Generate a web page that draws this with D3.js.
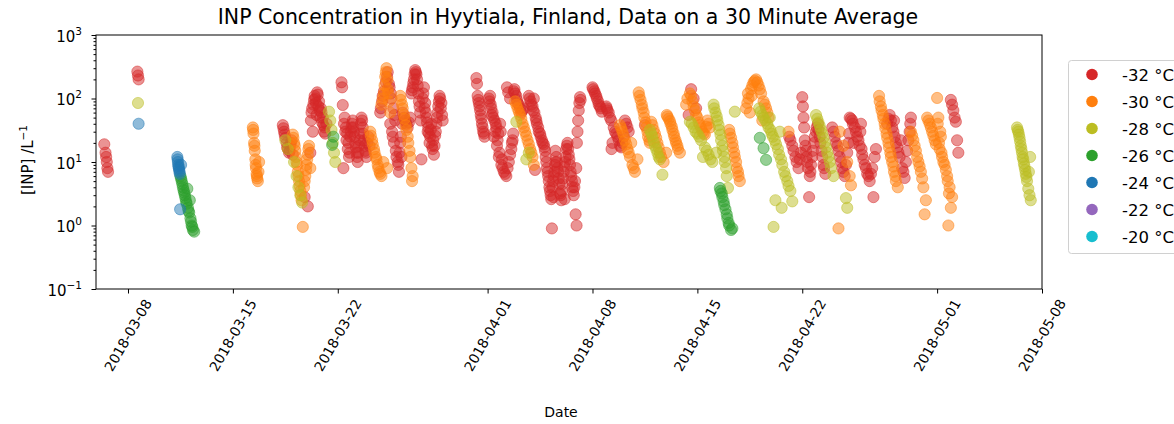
<!DOCTYPE html>
<html><head><meta charset="utf-8">
<script src="https://cdn.jsdelivr.net/npm/d3@7"></script>
<style>
body{margin:0;background:#fff;}
text{font-family:"DejaVu Sans",sans-serif;fill:#000;}
</style></head>
<body><svg id="chart" width="1174" height="424"></svg>
<script>
const temperatures = ["-32 °C","-30 °C","-28 °C","-26 °C","-24 °C","-22 °C","-20 °C"];
const colors = ["#d62728","#ff7f0e","#bcbd22","#2ca02c","#1f77b4","#9467bd","#17becf"];
const xTickLabels = ["2018-03-08","2018-03-15","2018-03-22","2018-04-01","2018-04-08","2018-04-15","2018-04-22","2018-05-01","2018-05-08"];
const yTickValues = [0.1,1,10,100,1000];

const seriesM32 = [
["03-06 10:00",19],["03-06 12:00",14],["03-06 13:00",12],["03-06 14:00",10],["03-06 15:00",8],["03-06 16:00",7],
["03-08 15:00",265],["03-08 16:00",230],["03-08 17:00",200],
["03-18 08:00",38],["03-18 10:00",30],["03-18 12:00",24],["03-18 14:00",20],["03-18 16:00",16],["03-18 18:00",14],["03-18 20:00",18],["03-18 22:00",22],["03-19 00:00",13],
["03-18 09:00",34],["03-18 11:00",27],["03-18 15:00",17],["03-18 19:00",15],["03-18 21:00",20],
["03-19 19:00",2.8],["03-20 00:00",2.0],["03-20 04:00",14],
["03-20 06:00",60],["03-20 09:00",80],["03-20 12:00",100],["03-20 15:00",125],["03-20 18:00",90],["03-20 21:00",70],["03-21 00:00",50],["03-21 03:00",35],["03-21 06:00",40],["03-20 08:00",30],["03-20 05:00",45],["03-20 14:00",55],
["03-20 07:00",70],["03-20 10:00",95],["03-20 11:00",110],["03-20 13:00",85],["03-20 16:00",115],["03-20 17:00",75],["03-20 19:00",65],["03-20 20:00",50],["03-20 22:00",60],["03-20 23:00",42],["03-21 01:00",38],["03-21 02:00",30],["03-21 04:00",28],
["03-22 06:00",180],["03-22 07:00",150],["03-22 08:00",79],["03-22 09:00",8],
["03-22 10:00",40],["03-22 12:00",30],["03-22 14:00",22],["03-22 16:00",16],["03-22 18:00",12],["03-22 20:00",25],["03-22 22:00",35],["03-23 00:00",45],["03-23 02:00",30],["03-23 04:00",20],["03-23 06:00",14],["03-23 08:00",10],["03-23 10:00",18],["03-23 12:00",28],["03-23 14:00",50],["03-23 16:00",35],["03-23 18:00",22],["03-23 20:00",15],["03-23 22:00",12],
["03-22 11:00",50],["03-22 13:00",35],["03-22 15:00",28],["03-22 17:00",20],["03-22 19:00",14],["03-22 21:00",30],["03-22 23:00",40],["03-23 01:00",35],["03-23 03:00",25],["03-23 05:00",17],["03-23 07:00",12],["03-23 09:00",14],["03-23 11:00",22],["03-23 13:00",40],["03-23 15:00",45],["03-23 17:00",28],["03-23 19:00",18],["03-23 21:00",14],["03-23 23:00",20],["03-24 01:00",25],["03-24 03:00",18],
["03-24 20:00",60],["03-24 23:00",90],["03-25 02:00",130],["03-25 05:00",180],["03-25 08:00",260],["03-25 11:00",150],["03-25 14:00",100],["03-25 17:00",70],["03-25 20:00",45],
["03-24 21:00",70],["03-25 00:00",110],["03-25 07:00",220],["03-25 10:00",170],["03-25 13:00",120],["03-25 15:00",30],["03-25 18:00",20],["03-25 19:00",55],["03-25 22:00",12],["03-26 01:00",9],["03-26 03:00",14],["03-26 05:00",25],["03-26 07:00",40],["03-26 10:00",50],["03-26 14:00",40],["03-26 18:00",42],
["03-25 12:00",40],["03-25 16:00",25],["03-25 21:00",15],["03-26 00:00",10],["03-26 02:00",7],["03-26 04:00",20],["03-26 06:00",12],
["03-26 08:00",60],["03-26 12:00",45],["03-26 16:00",35],["03-26 20:00",50],
["03-26 22:00",120],["03-27 00:00",150],["03-27 02:00",200],["03-27 04:00",280],["03-27 06:00",240],["03-27 08:00",160],["03-27 10:00",90],["03-27 12:00",60],
["03-26 23:00",135],["03-27 01:00",175],["03-27 03:00",240],["03-27 05:00",260],["03-27 07:00",200],["03-27 09:00",120],["03-27 11:00",75],["03-27 13:00",45],
["03-27 14:00",11],
["03-27 16:00",100],["03-27 18:00",150],["03-27 19:00",70],["03-27 22:00",50],["03-28 01:00",35],["03-28 04:00",25],["03-28 06:00",40],["03-28 07:00",18],["03-28 10:00",13],["03-28 13:00",30],["03-28 16:00",60],["03-28 19:00",110],["03-28 22:00",85],["03-29 00:00",45],
["03-27 17:00",120],["03-27 20:00",85],["03-27 21:00",60],["03-27 23:00",42],["03-28 00:00",30],["03-28 02:00",28],["03-28 03:00",20],["03-28 05:00",32],["03-28 08:00",16],["03-28 09:00",22],["03-28 11:00",18],["03-28 12:00",26],["03-28 14:00",40],["03-28 15:00",50],["03-28 17:00",75],["03-28 18:00",90],["03-28 20:00",100],["03-28 21:00",70],["03-28 23:00",55],
["03-31 06:00",210],["03-31 07:00",170],["03-31 08:00",110],["03-31 09:00",95],["03-31 10:00",85],["03-31 12:00",65],["03-31 13:00",55],["03-31 14:00",48],["03-31 16:00",35],["03-31 18:00",28],
["03-31 11:00",75],["03-31 15:00",40],["03-31 17:00",30],["03-31 19:00",25],
["04-01 02:00",100],["04-01 04:00",110],["04-01 05:00",80],["04-01 08:00",60],["04-01 11:00",45],["04-01 14:00",35],["04-01 17:00",28],["04-01 20:00",40],
["04-01 10:00",25],["04-01 15:00",18],["04-01 18:00",12],["04-01 22:00",9],["04-02 02:00",7],["04-02 06:00",6],["04-02 10:00",10],["04-02 14:00",16],["04-02 16:00",22],
["04-01 03:00",90],["04-01 06:00",70],["04-01 07:00",55],["04-01 09:00",50],["04-01 12:00",30],["04-01 13:00",40],["04-01 16:00",22],["04-01 19:00",14],["04-01 21:00",30],["04-01 23:00",11],["04-02 00:00",8],["04-02 04:00",6.5],["04-02 08:00",8],["04-02 12:00",13],["04-02 15:00",20],["04-02 17:00",28],
["04-02 07:00",150],["04-02 09:00",125],["04-02 12:00",100],["04-02 18:00",130],["04-02 22:00",110],["04-03 02:00",80],["04-03 06:00",60],["04-03 10:00",70],
["04-02 19:00",140],["04-02 20:00",120],["04-02 23:00",95],["04-03 00:00",85],["04-03 04:00",70],["04-03 08:00",65],
["04-03 18:00",110],["04-03 21:00",90],["04-04 00:00",75],["04-04 02:00",100],["04-04 03:00",60],["04-04 06:00",45],["04-04 09:00",35],["04-04 12:00",28],["04-04 15:00",22],["04-04 18:00",19],["04-04 04:00",7.5],
["04-03 19:00",100],["04-03 22:00",80],["04-04 01:00",65],["04-04 05:00",50],["04-04 07:00",40],["04-04 10:00",30],["04-04 13:00",25],["04-04 16:00",20],["04-04 19:00",17],["04-04 21:00",12],["04-04 23:00",8],
["04-04 20:00",15],["04-04 22:00",10],["04-05 00:00",7],["04-05 02:00",5],["04-05 04:00",3.5],["04-05 06:00",2.6],["04-05 08:00",4],["04-05 10:00",6],["04-05 12:00",9],["04-05 14:00",12],["04-05 16:00",8],["04-05 18:00",5.5],["04-05 20:00",3.2],["04-05 22:00",2.5],["04-06 00:00",4.5],["04-06 02:00",7],["04-06 04:00",10],["04-06 06:00",16],["04-06 08:00",20],["04-06 10:00",13],["04-06 12:00",9],["04-06 14:00",6],["04-06 16:00",4],["04-06 18:00",3],["04-06 20:00",5],["04-06 22:00",8],
["04-05 01:00",6],["04-05 03:00",4],["04-05 05:00",3],["04-05 09:00",5],["04-05 11:00",7],["04-05 13:00",10],["04-05 15:00",10],["04-05 17:00",7],["04-05 19:00",4.5],["04-05 21:00",3],["04-05 23:00",3.5],["04-06 01:00",5.5],["04-06 03:00",8.5],["04-06 05:00",12],["04-06 07:00",18],["04-06 09:00",16],["04-06 11:00",11],["04-06 13:00",7],["04-06 15:00",5],["04-06 17:00",3.5],["04-06 19:00",4],["04-05 12:30",15],["04-05 09:30",2.8],["04-06 03:30",2.6],
["04-05 07:00",0.9],["04-06 21:00",1.5],["04-06 22:30",1.0],
["04-06 23:00",20],["04-07 00:00",30],["04-07 01:00",45],["04-07 02:00",65],["04-07 03:00",85],["04-07 04:00",105],["04-07 05:00",95],
["04-08 00:00",150],["04-08 03:00",130],["04-08 06:00",110],["04-08 09:00",90],["04-08 12:00",75],["04-08 15:00",62],
["04-08 01:00",140],["04-08 04:00",120],["04-08 07:00",100],["04-08 10:00",80],["04-08 13:00",70],
["04-08 22:00",75],["04-09 02:00",60],["04-09 06:00",45],["04-09 08:00",20],["04-09 10:00",35],["04-09 14:00",28],["04-09 18:00",22],["04-09 22:00",17],["04-10 02:00",25],["04-10 04:00",45],["04-10 06:00",40],["04-10 10:00",30],
["04-08 23:00",70],["04-09 00:00",65],["04-09 04:00",50],["04-09 12:00",30],["04-09 16:00",25],["04-09 20:00",18],["04-10 00:00",20],["04-10 08:00",35],["04-09 06:30",16],
["04-11 12:00",38],
["04-14 10:00",55],["04-14 14:00",140],["04-14 18:00",100],["04-14 22:00",70],
["04-21 03:00",25],["04-21 08:00",18],["04-21 13:00",12],["04-21 18:00",8],["04-21 22:00",14],["04-22 00:00",105],["04-22 01:00",75],["04-22 02:00",50],["04-22 03:00",35],["04-22 04:00",22],["04-22 06:00",15],["04-22 08:00",10],["04-22 11:00",2.8],["04-22 13:00",7],["04-22 16:00",12],["04-22 19:00",20],["04-22 22:00",30],["04-23 01:00",40],["04-23 04:00",25],["04-23 07:00",15],["04-23 10:00",9],["04-23 13:00",6.5],
["04-21 05:00",22],["04-21 10:00",15],["04-21 15:00",10],["04-21 20:00",11],["04-22 05:00",18],["04-22 07:00",12],["04-22 09:00",8],["04-22 12:00",6],["04-22 14:00",9],["04-22 17:00",15],["04-22 20:00",25],["04-22 23:00",35],["04-23 02:00",32],["04-23 05:00",20],["04-23 08:00",12],["04-23 11:00",8],
["04-24 00:00",35],["04-24 04:00",25],["04-24 08:00",18],["04-24 12:00",12],["04-24 16:00",8],["04-24 20:00",6],["04-25 00:00",14],["04-25 03:00",28],
["04-24 02:00",30],["04-24 06:00",20],["04-24 10:00",15],["04-24 14:00",10],["04-24 18:00",7],["04-24 22:00",9],["04-25 02:00",20],
["04-25 04:00",50],["04-25 08:00",45],["04-25 10:00",20],["04-25 12:00",35],["04-25 16:00",25],["04-25 20:00",18],["04-25 22:00",40],["04-26 00:00",13],["04-26 04:00",9],["04-26 08:00",6.5],["04-26 12:00",5],["04-26 16:00",8],["04-26 18:00",2.8],["04-26 20:00",12],
["04-25 06:00",48],["04-25 14:00",30],["04-25 18:00",22],["04-25 21:00",30],["04-25 23:00",16],["04-26 02:00",11],["04-26 06:00",8],["04-26 10:00",6],["04-26 14:00",6.5],["04-26 22:00",16],["04-25 09:00",40],
["04-27 16:00",40],["04-27 20:00",55],["04-28 00:00",35],["04-28 04:00",25],["04-28 08:00",17],["04-28 12:00",12],["04-28 14:00",22],["04-28 16:00",8],["04-28 20:00",5.6],["04-29 00:00",15],["04-29 04:00",30],["04-29 06:00",50],
["04-27 18:00",48],["04-27 22:00",45],["04-28 02:00",30],["04-28 06:00",20],["04-28 10:00",14],["04-28 18:00",7],["04-28 22:00",10],["04-29 02:00",22],["04-29 05:00",40],["04-28 03:00",45],
["05-01 22:00",95],["05-02 00:00",80],["05-02 02:00",65],["05-02 04:00",50],["05-02 06:00",43],["05-02 08:00",22],["05-02 10:00",14]
];

const seriesM30 = [
["03-16 08:00",35],["03-16 09:00",28],["03-16 10:00",20],["03-16 11:00",15],["03-16 12:00",11],["03-16 13:00",8],["03-16 14:00",6.5],["03-16 15:00",5.5],["03-16 16:00",5],["03-16 17:00",7],["03-16 18:00",10],
["03-16 08:30",32],["03-16 10:30",18],["03-16 12:30",9],["03-16 14:30",6],
["03-19 00:00",27],["03-19 02:00",20],["03-19 04:00",15],["03-19 06:00",10],["03-19 08:00",7],["03-19 10:00",5],["03-19 12:00",3.5],["03-19 14:00",2.5],["03-19 16:00",0.95],["03-19 18:00",4],["03-19 20:00",6],["03-19 22:00",9],["03-20 00:00",13],["03-20 02:00",18],["03-20 04:00",8],
["03-19 01:00",24],["03-19 03:00",18],["03-19 05:00",12],["03-19 07:00",9],["03-19 09:00",6],["03-19 11:00",4.2],["03-19 13:00",3],["03-19 19:00",5],["03-19 21:00",7.5],["03-19 23:00",11],["03-20 01:00",16],
["03-24 04:00",30],["03-24 07:00",22],["03-24 10:00",16],["03-24 13:00",12],["03-24 16:00",9],["03-24 19:00",7],["03-24 22:00",6],["03-25 01:00",10],
["03-24 05:00",26],["03-24 08:00",19],["03-24 11:00",14],["03-24 14:00",11],["03-24 17:00",8],["03-24 20:00",6.5],
["03-25 06:00",300],["03-25 04:00",220],["03-25 03:00",160],["03-25 09:00",120],["03-24 22:00",80],["03-25 12:00",60],["03-25 07:00",8],
["03-25 05:00",260],["03-25 07:30",200],["03-25 08:00",140],["03-25 10:00",90],["03-25 02:00",120],["03-25 00:00",100],
["03-26 04:00",110],["03-26 07:00",80],["03-26 10:00",55],["03-26 13:00",38],["03-26 16:00",25],["03-26 19:00",15],["03-26 22:00",8],["03-27 00:00",6],["03-26 23:00",5],
["03-26 05:00",95],["03-26 08:00",70],["03-26 11:00",48],["03-26 14:00",32],["03-26 17:00",20],["03-26 20:00",12],
["04-02 20:00",90],["04-03 00:00",70],["04-03 04:00",55],["04-03 08:00",40],["04-03 12:00",30],["04-03 16:00",22],["04-03 20:00",16],["04-04 00:00",12],["04-04 02:00",9],
["04-02 22:00",80],["04-03 02:00",62],["04-03 06:00",48],["04-03 10:00",35],["04-03 14:00",26],["04-03 18:00",19],["04-03 22:00",14],
["04-09 20:00",38],["04-10 00:00",30],["04-10 04:00",22],["04-10 08:00",16],["04-10 12:00",12],["04-10 14:00",20],["04-10 16:00",9],["04-10 20:00",7],["04-11 00:00",11],
["04-09 22:00",34],["04-10 02:00",26],["04-10 06:00",19],["04-10 10:00",14],["04-10 18:00",8],
["04-11 02:00",125],["04-11 05:00",95],["04-11 08:00",70],["04-11 11:00",50],["04-11 14:00",35],["04-11 17:00",25],["04-11 20:00",20],
["04-11 03:00",110],["04-11 07:00",80],["04-11 10:00",60],["04-11 13:00",42],["04-11 16:00",30],["04-11 19:00",22],
["04-11 22:00",43],["04-12 02:00",32],["04-12 06:00",24],["04-12 10:00",17],["04-12 14:00",12],["04-12 18:00",10],["04-12 22:00",14],
["04-12 00:00",38],["04-12 04:00",28],["04-12 08:00",20],["04-12 12:00",14],
["04-12 23:00",55],["04-13 02:00",48],["04-13 05:00",40],["04-13 08:00",32],["04-13 11:00",25],["04-13 14:00",20],["04-13 17:00",16],["04-13 20:00",14],
["04-13 00:00",52],["04-13 04:00",44],["04-13 07:00",36],["04-13 10:00",28],["04-13 13:00",22],["04-13 16:00",18],
["04-14 06:00",80],["04-14 12:00",120],["04-14 16:00",90],["04-14 20:00",65],["04-15 00:00",50],["04-15 04:00",38],["04-15 08:00",30],["04-15 12:00",27],["04-15 16:00",45],["04-15 20:00",35],
["04-14 08:00",100],["04-14 14:00",110],["04-14 18:00",75],["04-14 22:00",55],["04-15 02:00",42],["04-15 06:00",34],["04-15 10:00",28],["04-15 14:00",36],["04-15 18:00",40],
["04-17 03:00",32],["04-17 06:00",24],["04-17 09:00",17],["04-17 12:00",12],["04-17 15:00",8],["04-17 18:00",6],["04-17 20:00",5],
["04-17 04:00",28],["04-17 08:00",20],["04-17 11:00",14],["04-17 14:00",10],["04-17 17:00",7],
["04-18 06:00",70],["04-18 10:00",100],["04-18 12:00",60],["04-18 14:00",140],["04-18 18:00",180],["04-18 22:00",200],["04-19 02:00",160],["04-19 06:00",120],["04-19 08:00",45],["04-19 10:00",90],["04-19 14:00",70],["04-19 18:00",50],
["04-18 08:00",85],["04-18 16:00",160],["04-18 20:00",190],["04-19 00:00",180],["04-19 04:00",140],["04-19 12:00",80],["04-19 16:00",60],["04-18 09:00",120],["04-18 15:00",110],
["04-21 02:00",30],
["04-24 10:00",0.9],["04-24 12:00",30],["04-24 18:00",18],["04-25 00:00",10],["04-25 04:00",6],["04-25 06:00",4.3],
["04-27 03:00",110],["04-27 06:00",75],["04-27 09:00",55],["04-27 12:00",40],["04-27 15:00",28],["04-27 18:00",20],["04-27 21:00",14],["04-28 00:00",10],["04-28 03:00",7],["04-28 06:00",5],["04-28 09:00",4],
["04-27 04:00",90],["04-27 07:00",65],["04-27 10:00",48],["04-27 13:00",34],["04-27 16:00",24],["04-27 19:00",17],["04-27 22:00",12],["04-28 02:00",8.5],["04-28 05:00",6],
["04-29 06:00",30],["04-29 10:00",22],["04-29 14:00",15],["04-29 18:00",10],["04-29 22:00",7],["04-30 02:00",4],["04-30 04:00",1.5],["04-30 06:00",2.5],
["04-29 08:00",26],["04-29 12:00",18],["04-29 16:00",12],["04-29 20:00",8.5],["04-30 00:00",5.5],
["04-30 08:00",50],["04-30 12:00",40],["04-30 14:00",35],["04-30 16:00",30],["04-30 20:00",22],["05-01 00:00",102],["05-01 02:00",50],["05-01 04:00",16],["05-01 06:00",25],["05-01 08:00",12],["05-01 12:00",9],["05-01 16:00",6],["05-01 18:00",1.0],["05-01 20:00",4],["05-01 22:00",1.9],["05-02 00:00",2.8],
["04-30 10:00",45],["04-30 18:00",26],["04-30 22:00",19],["05-01 01:00",40],["05-01 03:00",20],["05-01 05:00",30],["05-01 07:00",14],["05-01 10:00",10],["05-01 14:00",7.5],["05-01 17:00",5],["05-01 19:00",3.2]
];

const seriesM28 = [
["03-08 16:00",85],
["03-18 12:00",22],["03-18 16:00",16],
["03-19 02:00",10],["03-19 06:00",6],["03-19 09:00",4],["03-19 12:00",3],["03-19 15:00",2.3],
["03-21 10:00",62],["03-21 12:00",45],["03-21 14:00",32],["03-21 16:00",20],["03-21 18:00",14],["03-21 20:00",10],
["04-02 22:00",43],["04-03 14:00",11],["04-03 18:00",14],
["04-11 20:00",32],["04-12 00:00",25],["04-12 04:00",18],["04-12 08:00",14],["04-12 12:00",11],["04-12 16:00",6.3],
["04-11 22:00",28],["04-12 02:00",21],["04-12 06:00",16],["04-12 10:00",12],
["04-14 12:00",43],["04-14 18:00",35],["04-15 00:00",28],["04-15 06:00",22],["04-15 09:00",12],["04-15 12:00",17],["04-15 18:00",13],["04-16 00:00",10],["04-16 06:00",14],
["04-14 15:00",40],["04-14 21:00",30],["04-15 03:00",25],["04-15 15:00",15],["04-15 21:00",11],
["04-16 02:00",80],["04-16 05:00",60],["04-16 08:00",45],["04-16 11:00",32],["04-16 14:00",22],["04-16 17:00",15],["04-16 20:00",10],["04-16 23:00",6],["04-17 01:00",3.9],["04-17 12:00",62],
["04-16 03:00",70],["04-16 07:00",52],["04-16 10:00",38],["04-16 13:00",27],["04-16 16:00",18],["04-16 19:00",12],["04-16 22:00",8],
["04-19 03:00",70],["04-19 08:00",55],["04-19 13:00",45],["04-19 18:00",35],["04-19 20:00",50],["04-19 23:00",28],["04-20 04:00",22],["04-20 09:00",16],["04-20 12:00",30],["04-20 14:00",11],["04-20 19:00",7],["04-21 00:00",5],["04-21 05:00",3.5],["04-21 08:00",2.4],
["04-19 05:00",62],["04-19 10:00",50],["04-19 16:00",40],["04-19 21:00",32],["04-20 01:00",25],["04-20 06:00",19],["04-20 11:00",13],["04-20 16:00",9],["04-20 21:00",6],["04-21 02:00",4.2],
["04-20 02:00",0.95],["04-20 05:00",2.5],["04-20 15:00",1.9],
["04-22 22:00",55],["04-23 02:00",42],["04-23 06:00",32],["04-23 10:00",24],["04-23 14:00",17],["04-23 18:00",12],["04-23 22:00",8],["04-24 02:00",6],
["04-23 00:00",48],["04-23 04:00",37],["04-23 08:00",28],["04-23 12:00",20],["04-23 16:00",14],["04-23 20:00",10],
["04-24 22:00",2.7],["04-25 00:00",1.9],
["05-06 08:00",35],["05-06 10:00",30],["05-06 12:00",24],["05-06 14:00",18],["05-06 16:00",14],["05-06 18:00",11],["05-06 20:00",8.5],["05-06 22:00",6.5],["05-07 00:00",5],["05-07 02:00",3.8],["05-07 03:00",7],["05-07 04:00",3],["05-07 05:00",12],["05-07 06:00",2.5],
["05-06 09:00",32],["05-06 11:00",27],["05-06 13:00",21],["05-06 15:00",16],["05-06 17:00",12],["05-06 19:00",9.5],["05-06 21:00",7.5],["05-06 23:00",5.8]
];

const seriesM26 = [
["03-11 12:00",6],["03-11 14:00",5],["03-11 16:00",4],["03-11 18:00",3.3],["03-11 20:00",2.7],["03-11 22:00",2.2],["03-11 23:00",3.8],["03-12 00:00",1.9],["03-12 02:00",1.6],["03-12 03:00",2.5],["03-12 04:00",1.3],["03-12 06:00",1.0],["03-12 08:00",0.85],["03-12 10:00",0.8],
["03-11 13:00",5.5],["03-11 15:00",4.5],["03-11 17:00",3.6],["03-11 19:00",3],["03-11 21:00",2.4],["03-12 01:00",1.7],["03-12 05:00",1.15],["03-12 07:00",0.95],
["03-21 15:00",18.6],["03-21 17:00",25],
["04-16 12:00",3.9],["04-16 15:00",3.2],["04-16 18:00",2.4],["04-16 21:00",1.8],["04-17 00:00",1.3],["04-17 03:00",1.0],["04-17 06:00",0.85],["04-17 08:00",0.9],
["04-16 13:00",3.5],["04-16 16:00",2.8],["04-16 19:00",2.1],["04-16 23:00",1.5],["04-17 02:00",1.1],
["04-19 04:00",24],["04-19 10:00",16.5],["04-19 14:00",10.8]
];

const seriesM24 = [
["03-08 17:00",40],
["03-11 07:00",12],["03-11 08:00",10],["03-11 09:00",8.5],["03-11 10:00",7.5],["03-11 11:00",6.5],["03-11 13:00",9],["03-11 11:30",1.8],
["03-11 07:30",11],["03-11 08:30",9],["03-11 09:30",8],["03-11 10:30",7]
];
const seriesM22 = [];
const seriesM20 = [];

const allSeries = [seriesM32, seriesM30, seriesM28, seriesM26, seriesM24, seriesM22, seriesM20];

const svg = d3.select("#chart");
const L = 96, R = 1042, T = 35, B = 289;
const parse = d3.timeParse("%Y-%m-%d %H:%M");
const x = d3.scaleTime().domain([new Date(2018,2,5,20,45), new Date(2018,4,8)]).range([L, R]);
const y = d3.scaleLog().domain([0.1, 1000]).range([B, T]);

// points
allSeries.forEach((s, i) => {
  svg.append("g").selectAll("circle").data(s).join("circle")
    .attr("cx", d => x(parse("2018-" + d[0])))
    .attr("cy", d => y(d[1]))
    .attr("r", 5.6)
    .attr("fill", colors[i]).attr("fill-opacity", 0.5)
    .attr("stroke", colors[i]).attr("stroke-opacity", 0.5).attr("stroke-width", 1);
});

// frame
svg.append("rect").attr("x", L).attr("y", T).attr("width", R - L).attr("height", B - T)
  .attr("fill", "none").attr("stroke", "#000").attr("stroke-width", 1);

// x axis
const xTicks = xTickLabels.map(s => d3.timeParse("%Y-%m-%d")(s));
const gx = svg.append("g").attr("transform", `translate(0,${B})`)
  .call(d3.axisBottom(x).tickValues(xTicks).tickSize(4.5).tickFormat(""));
gx.select(".domain").remove();
const fs = 13.8;
xTicks.forEach((t, i) => {
  const lbl = svg.append("text").text(xTickLabels[i]).attr("font-size", fs)
    .attr("text-anchor", "middle").attr("dominant-baseline", "central");
  const len = lbl.node().getComputedTextLength();
  const h = fs * 1.0;
  const H = len * Math.sin(Math.PI / 3) + h * Math.cos(Math.PI / 3);
  const cx = x(t), cy = B + 8 + H / 2;
  lbl.attr("x", cx).attr("y", cy).attr("transform", `rotate(-60,${cx},${cy})`);
});

// y axis
const gy = svg.append("g").attr("transform", `translate(${L},0)`)
  .call(d3.axisLeft(y).tickValues(yTickValues).tickSize(4.5).tickFormat(""));
gy.select(".domain").remove();
const minor = [];
[0.1, 1, 10, 100].forEach(dec => { for (let k = 2; k <= 9; k++) minor.push(dec * k); });
svg.append("g").attr("transform", `translate(${L},0)`)
  .call(d3.axisLeft(y).tickValues(minor).tickSize(2.5).tickFormat(""))
  .select(".domain").remove();
const expo = ["\u22121", "0", "1", "2", "3"];
yTickValues.forEach((v, i) => {
  const t = svg.append("text").attr("x", 82).attr("y", y(v) + 1.5).attr("text-anchor", "end")
    .attr("dominant-baseline", "central").attr("font-size", 15);
  t.append("tspan").text("10");
  t.append("tspan").text(expo[i]).attr("font-size", 10.5).attr("dy", -6);
});

// labels
const title = svg.append("text").attr("x", 568).attr("y", 24).attr("text-anchor", "middle").attr("font-size", 20)
  .text("INP Concentration in Hyytiala, Finland, Data on a 30 Minute Average");
const tw = title.node().getComputedTextLength();
title.attr("font-size", 20 * 701 / tw);
svg.append("text").attr("x", 561).attr("y", 417).attr("text-anchor", "middle").attr("font-size", 14).text("Date");
const yl = svg.append("text").attr("transform", "translate(33,160) rotate(-90)").attr("text-anchor", "middle").attr("font-size", 15);
yl.append("tspan").text("[INP] /L");
yl.append("tspan").text("\u22121").attr("font-size", 10.5).attr("dy", -6);

// legend
svg.append("rect").attr("x", 1068.5).attr("y", 60.5).attr("width", 120).attr("height", 193).attr("rx", 3)
  .attr("fill", "#fff").attr("stroke", "#d0d0d0").attr("stroke-width", 1);
temperatures.forEach((lab, i) => {
  const yy = 74.5 + i * 27;
  svg.append("circle").attr("cx", 1092).attr("cy", yy).attr("r", 5.8).attr("fill", colors[i]);
  svg.append("text").attr("x", 1122).attr("y", yy + 1).attr("dominant-baseline", "central").attr("font-size", 16.5).text(lab);
});
</script></body></html>
